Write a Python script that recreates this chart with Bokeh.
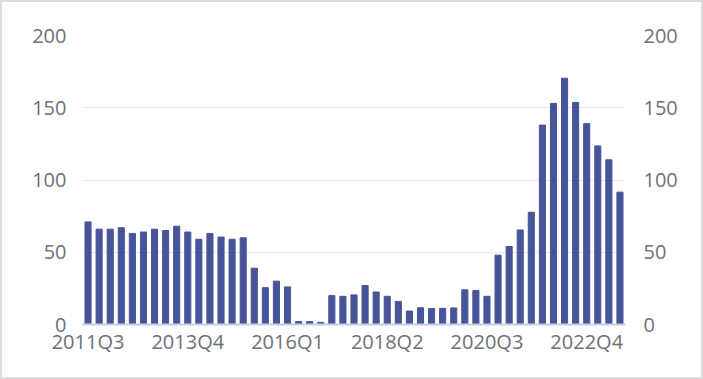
from bokeh.plotting import figure
from bokeh.models import FixedTicker, LinearAxis, Range1d
from bokeh.embed import file_html
from bokeh.resources import INLINE

quarters = []
for y in range(2011, 2024):
    for q in range(1, 5):
        if (y == 2011 and q < 3) or (y == 2023 and q > 3):
            continue
        quarters.append(f"{y}Q{q}")

values = [71, 66, 66, 67, 63, 64, 66, 65, 68, 64,
          59, 63, 60.5, 59, 60, 39, 25.5, 30, 26, 2,
          2, 1.5, 20, 19.5, 20.5, 27, 22.5, 19.5, 16, 9.3,
          11.6, 11, 11.2, 11.5, 24, 23.5, 19.5, 48, 54, 65.4,
          77.7, 138, 153, 170.4, 153.7, 139, 123.6, 114, 91.6]

tick_idx = [0, 9, 18, 27, 36, 45]
y_ticks = [0, 50, 100, 150, 200]

x = list(range(len(values)))

p = figure(width=703, height=379, output_backend="svg", toolbar_location=None,
           x_range=Range1d(-0.5, len(values) - 0.5), y_range=Range1d(0, 200),
           min_border_left=80, min_border_right=80, min_border_top=33, min_border_bottom=57,
           y_axis_location=None)
p.outline_line_color = None
p.background_fill_color = "white"
p.border_fill_color = "white"
p.styles = {"border": "2px solid #dcdcdc", "box-sizing": "border-box"}

p.vbar(x=x, top=values, width=0.55, color="#48549a")

font = "Open Sans"
lbl_color = "#6e7079"

xa = p.xaxis[0]
xa.ticker = FixedTicker(ticks=tick_idx)
xa.major_label_overrides = {i: quarters[i] for i in tick_idx}
xa.axis_line_color = "#c9cde3"
xa.axis_line_width = 2
xa.major_tick_line_color = None
xa.minor_tick_line_color = None
xa.major_label_text_font = font
xa.major_label_text_font_size = "20px"
xa.major_label_text_color = lbl_color
xa.major_label_standoff = -3

for side in ("left", "right"):
    ax = LinearAxis(ticker=FixedTicker(ticks=y_ticks))
    ax.axis_line_color = None
    ax.major_tick_line_color = None
    ax.minor_tick_line_color = None
    ax.major_label_text_font = font
    ax.major_label_text_font_size = "20px"
    ax.major_label_text_color = lbl_color
    ax.major_label_standoff = 10 if side == "left" else 12
    p.add_layout(ax, side)

p.xgrid.grid_line_color = None
p.ygrid.ticker = FixedTicker(ticks=y_ticks)
p.ygrid.grid_line_color = "#e3e6f0"
p.ygrid.grid_line_width = 1

open("out.html", "w").write(file_html(p, INLINE))
